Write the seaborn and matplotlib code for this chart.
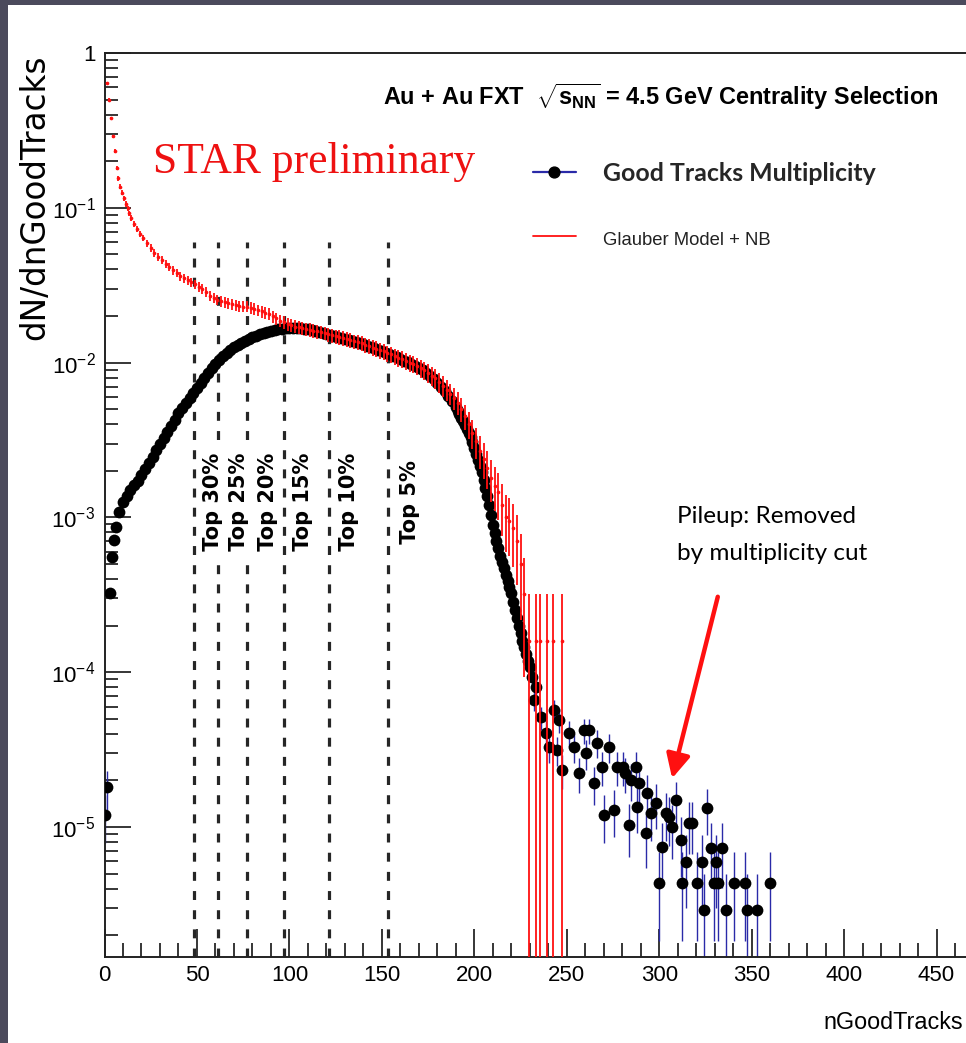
import numpy as np
import pandas as pd
import matplotlib
matplotlib.use("Agg")
import matplotlib.pyplot as plt
import seaborn as sns
from matplotlib import font_manager as fm
from matplotlib.ticker import FixedLocator, FixedFormatter, MultipleLocator, LogLocator, NullFormatter
from matplotlib.lines import Line2D
from matplotlib.patches import Rectangle

# ---------------- data ----------------
# Good Tracks Multiplicity (dN/dnGoodTracks), dense part
GOOD_X_CORE = [0.5, 1.5, 2.9, 4.2, 5.2, 6.4,
               8, 10, 12, 14, 16, 18, 20, 22, 24, 26, 28, 30, 32, 34, 36, 38, 40, 42, 44, 46,
               48, 50, 52, 54, 56, 58, 60, 62, 64, 66, 68, 70, 72, 74, 76, 78, 80, 82, 84, 86,
               88, 90, 92, 94, 96, 98, 100, 102, 104, 106, 108, 110, 112, 114, 116, 118, 120,
               122, 124, 126, 128, 130, 132, 134, 136, 138, 140, 142, 144, 146, 148, 150, 152,
               154, 156, 158, 160, 162, 164, 166, 168, 170, 172, 174, 176, 178, 180, 182, 184,
               186, 188, 190, 191, 192, 193, 194, 195, 196, 197, 198, 199, 200, 201, 202, 203,
               204, 205, 206, 207, 208, 209, 210, 211, 212, 213, 214, 215, 216, 217, 218, 219,
               220, 221, 222, 223, 224, 225, 226, 227, 228, 229, 230]
GOOD_Y_CORE = [1.2e-5, 1.8e-5, 3.24e-4, 5.57e-4, 7.14e-4, 8.71e-4,
               1.084e-3, 1.259e-3, 1.374e-3, 1.503e-3, 1.611e-3, 1.726e-3, 1.871e-3, 2.051e-3,
               2.254e-3, 2.472e-3, 2.710e-3, 2.972e-3, 3.258e-3, 3.565e-3, 3.908e-3, 4.285e-3,
               4.699e-3, 5.105e-3, 5.495e-3, 5.916e-3, 6.368e-3, 6.839e-3, 7.362e-3, 7.925e-3,
               8.551e-3, 9.162e-3, 9.772e-3, 1.042e-2, 1.099e-2, 1.156e-2, 1.211e-2, 1.268e-2,
               1.306e-2, 1.343e-2, 1.377e-2, 1.416e-2, 1.455e-2, 1.496e-2, 1.538e-2, 1.563e-2,
               1.585e-2, 1.607e-2, 1.626e-2, 1.637e-2, 1.652e-2, 1.663e-2, 1.663e-2, 1.663e-2,
               1.663e-2, 1.663e-2, 1.652e-2, 1.637e-2, 1.622e-2, 1.603e-2, 1.578e-2, 1.552e-2,
               1.531e-2, 1.507e-2, 1.486e-2, 1.466e-2, 1.445e-2, 1.429e-2, 1.409e-2, 1.387e-2,
               1.361e-2, 1.337e-2, 1.312e-2, 1.288e-2, 1.265e-2, 1.242e-2, 1.213e-2, 1.186e-2,
               1.156e-2, 1.130e-2, 1.104e-2, 1.079e-2, 1.054e-2, 1.030e-2, 1.005e-2, 9.795e-3,
               9.528e-3, 9.226e-3, 8.892e-3, 8.531e-3, 8.166e-3, 7.780e-3, 7.379e-3, 6.950e-3,
               6.516e-3, 6.081e-3, 5.623e-3, 5.129e-3, 4.898e-3, 4.645e-3, 4.406e-3, 4.169e-3,
               3.954e-3, 3.750e-3, 3.524e-3, 3.311e-3, 3.055e-3, 2.818e-3, 2.570e-3, 2.344e-3,
               2.138e-3, 1.950e-3, 1.738e-3, 1.549e-3, 1.365e-3, 1.202e-3, 1.035e-3, 8.913e-4,
               7.943e-4, 7.079e-4, 6.310e-4, 5.623e-4, 5.129e-4, 4.677e-4, 4.266e-4, 3.890e-4,
               3.548e-4, 3.236e-4, 2.851e-4, 2.512e-4, 2.239e-4, 1.995e-4, 1.778e-4, 1.585e-4,
               1.445e-4, 1.318e-4, 1.189e-4, 1.072e-4]
# pile-up tail
GOOD_X_TAIL = [231, 232.3, 233.4, 236, 238.8, 240.4, 243, 244.7, 245.8, 247.4, 251, 254, 256.6,
               259.3, 260.4, 262, 264.7, 266.3, 269, 270, 272.8, 275.5, 277, 280.7, 281.5, 283.6,
               284.7, 287.4, 288.2, 289.3, 292.8, 293.3, 295.5, 298.2, 300, 301.5, 303.6, 305.2,
               307, 309, 311.7, 312.3, 314.4, 316, 317.7, 320.5, 323, 324, 325.8, 328, 329.5,
               330.6, 332, 333.9, 336, 340.4, 346.5, 347.5, 352.8, 360]
GOOD_Y_TAIL = [9.3e-5, 6.6e-5, 8.0e-5, 5.1e-5, 4.05e-5, 3.29e-5, 5.7e-5, 3.14e-5, 4.9e-5, 2.33e-5,
               4.05e-5, 3.29e-5, 2.23e-5, 4.2e-5, 3.0e-5, 4.2e-5, 1.92e-5, 3.5e-5, 2.44e-5, 1.2e-5,
               3.29e-5, 1.29e-5, 2.44e-5, 2.44e-5, 2.23e-5, 1.03e-5, 2.0e-5, 2.44e-5, 1.35e-5,
               1.92e-5, 9.1e-6, 1.66e-5, 1.23e-5, 1.43e-5, 4.35e-6, 7.4e-6, 1.23e-5, 1.16e-5,
               1.0e-5, 1.49e-5, 8.2e-6, 4.35e-6, 5.9e-6, 1.06e-5, 1.06e-5, 4.35e-6, 5.9e-6, 2.9e-6,
               1.33e-5, 7.3e-6, 4.35e-6, 5.9e-6, 4.35e-6, 7.3e-6, 2.9e-6, 4.35e-6, 4.35e-6, 2.9e-6,
               2.9e-6, 4.35e-6]
GOOD_UNIT = 1.45e-6      # value of one event in the normalised histogram

# Glauber Model + NB
MODEL_X = [1.5, 2.5, 3.5, 4.5, 5.5, 6.5, 7.5, 8.5, 9.5, 10.5, 11.5, 12.5, 13.5, 14.5, 16, 17.5,
           19, 21, 23, 25, 27, 29, 31, 33, 35, 37, 39, 41, 43, 45, 47, 49, 51, 53, 55, 57, 59,
           61, 63, 65, 67, 69, 71, 73, 75, 77, 79, 81, 83, 85, 87, 89, 91, 93, 95, 97, 99,
           101, 103, 105, 107, 109, 111, 113, 115, 117, 119, 121, 123, 125, 127, 129, 131, 133,
           135, 137, 139, 141, 143, 145, 147, 149, 151, 153, 155, 157, 159, 161, 163, 165, 167,
           169, 171, 173, 175, 177, 179, 181, 183, 185, 187, 189, 191, 193, 195, 197, 199, 201,
           203, 205, 207, 209, 211, 213, 215, 217, 219, 221, 223, 225, 227,
           229.5, 233.5, 235.5, 239.5, 242.5, 247.5]
MODEL_Y = [0.64, 0.50, 0.38, 0.29, 0.232, 0.182, 0.155, 0.137, 0.125, 0.115, 0.106, 0.099, 0.092,
           0.086, 0.079, 0.073, 0.068, 0.064, 0.059, 0.055, 0.051, 0.048, 0.046, 0.0435, 0.0415,
           0.0395, 0.038, 0.036, 0.035, 0.034, 0.033, 0.032, 0.031, 0.030, 0.0285, 0.027, 0.0262,
           0.0255, 0.025, 0.0245, 0.0242, 0.0238, 0.0235, 0.0232, 0.023, 0.023, 0.0226, 0.0222,
           0.0218, 0.0214, 0.021, 0.0206, 0.0199, 0.0193, 0.0187, 0.0182, 0.0178,
           0.0174, 0.0171, 0.0169, 0.0167, 0.0165, 0.0163, 0.0161, 0.0159, 0.0157, 0.0155,
           0.0152, 0.0150, 0.0148, 0.0146, 0.0144, 0.0142, 0.0140, 0.0137, 0.0135, 0.0133,
           0.0130, 0.0128, 0.0125, 0.0123, 0.0120, 0.0118, 0.0115, 0.0113, 0.0110, 0.0107,
           0.0105, 0.0102, 0.0100, 0.0098, 0.0095, 0.0092, 0.0089, 0.0086, 0.0082, 0.0079,
           0.0075, 0.0071, 0.0067, 0.0063, 0.0059, 0.0055, 0.0050, 0.0045, 0.0040, 0.0035,
           0.0031, 0.0027, 0.0024, 0.0021, 0.0018, 0.0016, 0.00145, 0.0012, 0.0010, 0.00095,
           0.00085, 0.0007, 0.0005, 0.00032,
           0.00016, 0.00016, 0.00016, 0.00016, 0.00016, 0.00016]
MODEL_UNIT = 1.6e-4      # value of one event in the model histogram

CENTRALITY_CUTS = [48.3, 61.3, 77.2, 97.0, 121.3, 153.4]
CENTRALITY_LABELS = ["Top 30%", "Top 25%", "Top 20%", "Top 15%", "Top 10%", "Top 5%"]
CENTRALITY_LABEL_X = [58.9, 73.0, 88.2, 107.6, 132.0, 165.0]

X_TICKS = [0, 50, 100, 150, 200, 250, 300, 350, 400, 450]
Y_TICKS = [1e-5, 1e-4, 1e-3, 1e-2, 1e-1, 1]
Y_TICK_LABELS = [r"$\mathdefault{10^{-5}}$", r"$\mathdefault{10^{-4}}$", r"$\mathdefault{10^{-3}}$",
                 r"$\mathdefault{10^{-2}}$", r"$\mathdefault{10^{-1}}$", "1"]
LEGEND_LABELS = ["Good Tracks Multiplicity", "Glauber Model + NB"]
HEADER = r"Au + Au FXT  $\sqrt{\mathbf{s}_{\mathbf{NN}}}$ = 4.5 GeV Centrality Selection"

# ---------------- frame ----------------
W, H = 966, 1043
sns.set_theme(style="ticks")
names = {f.name for f in fm.fontManager.ttflist}
NARROW = "Liberation Sans Narrow" if "Liberation Sans Narrow" in names else "Liberation Sans"
CAL = "Lato" if "Lato" in names else ("Open Sans" if "Open Sans" in names else "DejaVu Sans")
SERIF = "Liberation Serif" if "Liberation Serif" in names else "DejaVu Serif"
plt.rcParams["font.family"] = [NARROW, "DejaVu Sans"]
plt.rcParams["mathtext.fontset"] = "custom"
plt.rcParams["mathtext.rm"] = NARROW
plt.rcParams["mathtext.bf"] = NARROW + ":bold"
plt.rcParams["mathtext.it"] = NARROW + ":italic"
plt.rcParams["mathtext.default"] = "regular"

fig = plt.figure(figsize=(W / 100, H / 100), dpi=100, facecolor="#4b4a5c")
fig.patches.append(Rectangle((8 / W, 0), 1, 1 - 5 / H, transform=fig.transFigure,
                             facecolor="white", edgecolor="none", zorder=-10))
ax = fig.add_axes([104.5 / W, 1 - 956.5 / H, 861.6 / W, 903.5 / H])
ax.set_facecolor("white")
ax.set_yscale("log")
ax.set_xlim(0, 466)
ax.set_ylim(1.456e-6, 1)

good = pd.DataFrame({"x": GOOD_X_CORE + GOOD_X_TAIL, "y": GOOD_Y_CORE + GOOD_Y_TAIL})
good["err"] = np.sqrt(good["y"] * GOOD_UNIT)
model = pd.DataFrame({"x": MODEL_X, "y": MODEL_Y})
model["err"] = np.sqrt(model["y"] * MODEL_UNIT)

BLUE = "#2a2aa8"
RED = "#ff1010"

ax.vlines(CENTRALITY_CUTS, 1.456e-6, 0.06, colors="#262626", linestyles=(0, (2.8, 3.2)),
          linewidth=2.3, zorder=1)

ax.errorbar(good["x"], good["y"], yerr=good["err"], fmt="none", ecolor=BLUE,
            elinewidth=1.0, capsize=0, zorder=2)
sns.scatterplot(data=good, x="x", y="y", ax=ax, color="black", s=72, linewidth=0,
                zorder=3, legend=False)

ax.errorbar(model["x"], model["y"], yerr=model["err"], xerr=0.5, fmt="none", ecolor=RED,
            elinewidth=1.3, capsize=0, zorder=4)
sns.scatterplot(data=model, x="x", y="y", ax=ax, color=RED, s=7, linewidth=0,
                zorder=4, legend=False)

# axes styling
ax.yaxis.set_major_locator(FixedLocator(Y_TICKS))
ax.yaxis.set_major_formatter(FixedFormatter(Y_TICK_LABELS))
ax.yaxis.set_minor_locator(LogLocator(base=10, subs=np.arange(2, 10), numticks=20))
ax.yaxis.set_minor_formatter(NullFormatter())
ax.xaxis.set_major_locator(FixedLocator(X_TICKS))
ax.xaxis.set_major_formatter(FixedFormatter([str(v) for v in X_TICKS]))
ax.xaxis.set_minor_locator(MultipleLocator(10))
tick_fs = 19 if NARROW == "Liberation Sans Narrow" else 16
ax.tick_params(axis="both", which="both", direction="in", color="black", width=1.1,
               top=False, right=False, labelsize=tick_fs, labelcolor="black")
ax.tick_params(axis="y", which="major", length=19, pad=6.5)
ax.tick_params(axis="y", which="minor", length=9.5)
ax.tick_params(axis="x", which="major", length=20.5, pad=6)
ax.tick_params(axis="x", which="minor", length=10)
ax.spines["right"].set_visible(False)
for s in ("left", "bottom", "top"):
    ax.spines[s].set_linewidth(1.4)
    ax.spines[s].set_color("#222222")
ax.set_xlabel("")
ax.set_ylabel("")

# centrality labels
for lab, xv in zip(CENTRALITY_LABELS, CENTRALITY_LABEL_X):
    ax.text(xv, 1.26e-3, " " + lab + " ", rotation=90, ha="center", va="center",
            fontweight="bold", family="DejaVu Sans", fontsize=15, color="black",
            bbox=dict(facecolor="white", edgecolor="none", pad=1), zorder=5)

# arrow for pile-up
ax.annotate("", xy=(307.0, 2.06e-5), xytext=(331.7, 3.07e-4),
            arrowprops=dict(arrowstyle="-|>,head_length=0.9,head_width=0.45", color=RED,
                            lw=3.2, mutation_scale=16, shrinkA=0, shrinkB=0), zorder=6)


def fx(px):
    return px / W


def fy(py):
    return 1 - py / H


header = fig.text(fx(383), fy(105), HEADER, ha="left", va="baseline", family=NARROW,
                  fontweight="bold", fontsize=18, color="black")
star = fig.text(fx(153), fy(173), "STAR preliminary", ha="left", va="baseline", family=SERIF,
                fontsize=28, color="#ee1111")
pile = fig.text(fx(677), fy(535), "Pileup: Removed\nby multiplicity cut", ha="left",
                va="center", family=CAL, fontsize=18, color="black")
ylab = fig.text(fx(51), fy(55), "dN/dnGoodTracks", rotation=90, ha="right", va="top",
                family="DejaVu Sans", fontsize=22, color="black")
xlab = fig.text(fx(963), fy(1029), "nGoodTracks", ha="right", va="baseline", family=NARROW,
                fontsize=20, color="black")

handles = [Line2D([0], [0], color=BLUE, lw=1.6, marker="o", ms=7.8, mfc="black", mec="black"),
           Line2D([0], [0], color=RED, lw=1.3)]
leg = ax.legend(handles, LEGEND_LABELS, loc="upper left", bbox_to_anchor=(fx(533), fy(162)),
                bbox_transform=fig.transFigure, frameon=False, borderpad=0, borderaxespad=0,
                handlelength=1.7, handletextpad=1.1, labelspacing=1.7, fontsize=18)
lt = leg.get_texts()
lt[0].set_family(CAL)
lt[0].set_fontweight("bold")
lt[1].set_family(NARROW)
lt[1].set_color("#222222")


def fit(t, target, vertical=False):
    for _ in range(2):
        fig.canvas.draw()
        bb = t.get_window_extent(fig.canvas.get_renderer())
        cur = bb.height if vertical else bb.width
        if cur > 0:
            t.set_fontsize(t.get_fontsize() * target / cur)


fit(header, 556)
fit(star, 322)
fit(ylab, 285, vertical=True)
fit(xlab, 140)
fit(lt[0], 272)
fit(lt[1], 168)
fit(pile, 190)
pile.set_linespacing(47 / (pile.get_fontsize() * 100 / 72))

fig.savefig("out.png", dpi=100, facecolor=fig.get_facecolor())
